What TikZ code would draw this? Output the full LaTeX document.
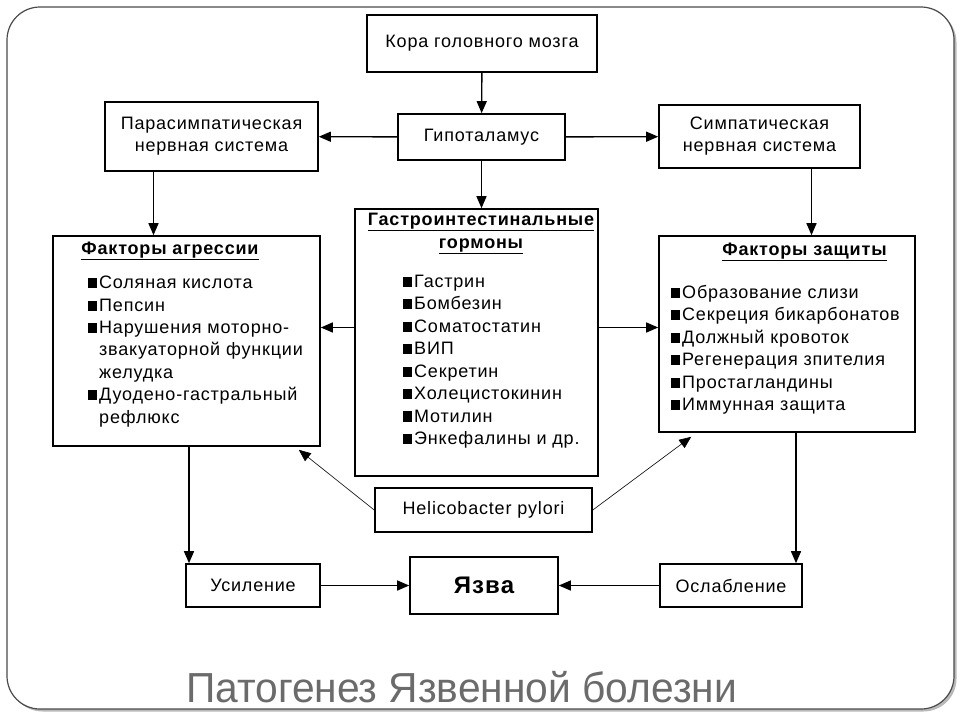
\documentclass[tikz,border=0pt]{standalone}
\usepackage{fontspec}
\setmainfont{Liberation Sans}[LetterSpace=4.5]
\newfontfamily\titelfont[FakeStretch=0.97]{Liberation Sans}
\usetikzlibrary{arrows.meta}
\definecolor{titelgrau}{HTML}{6B6B6B}
\definecolor{rahmengrau}{HTML}{4A4A4A}
\newcommand{\kv}{\makebox[11pt][l]{\rule[0.5pt]{9pt}{10pt}}}
\newcommand{\ei}{\hspace*{11pt}}
\tikzset{
	kasten/.style={draw,line width=1.6pt,inner sep=0pt,font=\fontsize{18}{22}\selectfont,align=center},
	liste/.style={inner sep=0pt,anchor=north west,align=left,font=\fontsize{18}{22.4}\selectfont},
	kopf/.style={inner sep=0pt,align=center,font=\bfseries\fontsize{18}{23}\selectfont},
	pfeil/.style={line width=1.4pt,-{Triangle[length=12pt,width=10pt]}},
	hpfeil/.style={line width=0.6pt,-{Triangle[length=12pt,width=10pt]}}
}
\begin{document}
\begin{tikzpicture}[x=1pt,y=-1pt]
	\useasboundingbox (0,0) rectangle (960,720);
	% Rahmen der Folie
	\fill[gray!55,rounded corners=33pt] (9.5,9.5) rectangle (956.5,711.5);
	\draw[rahmengrau,fill=white,line width=1.2pt,rounded corners=33pt] (7,7) rectangle (954,709);
	% obere Reihe
	\node[kasten,minimum width=230pt,minimum height=57pt] (kora) at (482,43.5) {Кора головного мозга};
	\node[kasten,minimum width=167pt,minimum height=46pt] (gipo) at (481.5,137) {Гипоталамус};
	\node[kasten,minimum width=213pt,minimum height=69pt] (para) at (211.5,136.5) {Парасимпатическая\\нервная система};
	\node[kasten,minimum width=201pt,minimum height=63pt] (simp) at (759.5,136.5) {Симпатическая\\нервная система};
	% mittlere Reihe
	\node[kasten,minimum width=267pt,minimum height=210pt] (agr) at (186.5,341) {};
	\node[kasten,minimum width=243pt,minimum height=267pt] (gastro) at (476.5,342.5) {};
	\node[kasten,minimum width=256pt,minimum height=196pt] (zash) at (787,334) {};
	\node[kopf] (agrkopf) at (170,251) {\underline{Факторы агрессии}};
	\node[kopf] (gastrokopf) at (481,233.5) {\underline{Гастроинтестинальные}\\\underline{гормоны}};
	\node[kopf] (zashkopf) at (804.5,252) {\underline{Факторы защиты}};
	\node[liste] (agrliste) at (88,276) {\kv Соляная кислота\\\kv Пепсин\\\kv Нарушения моторно-\\\ei звакуаторной функции\\\ei желудка\\\kv Дуодено-гастральный\\\ei рефлюкс};
	\node[liste] (gastroliste) at (403,275) {\kv Гастрин\\\kv Бомбезин\\\kv Соматостатин\\\kv ВИП\\\kv Секретин\\\kv Холецистокинин\\\kv Мотилин\\\kv Энкефалины и др.};
	\node[liste] (zashliste) at (671,285) {\kv Образование слизи\\\kv Секреция бикарбонатов\\\kv Должный кровоток\\\kv Регенерация зпителия\\\kv Простагландины\\\kv Иммунная защита};
	% untere Reihe
	\node[kasten,minimum width=217pt,minimum height=44pt] (heli) at (483.5,510) {Helicobacter pylori};
	\node[kasten,minimum width=134pt,minimum height=43pt] (usil) at (253,585.5) {Усиление};
	\node[kasten,minimum width=148pt,minimum height=57pt,font=\bfseries\fontsize{24}{26}\selectfont] (yazva) at (484,585.5) {Язва};
	\node[kasten,minimum width=142pt,minimum height=43pt] (osl) at (731,585.5) {Ослабление};
	% Pfeile
	\draw[pfeil] (kora) -- (gipo);
	\draw[pfeil] (gipo) -- (para);
	\draw[pfeil] (gipo) -- (simp);
	\draw[pfeil] (gipo.south) -- (gipo.south |- gastro.north);
	\draw[pfeil] ([xshift=-58pt]para.south) -- ([xshift=-58pt]para.south |- agr.north);
	\draw[pfeil] ([xshift=52pt]simp.south) -- ([xshift=52pt]simp.south |- zash.north);
	\draw[pfeil] ([yshift=15pt]gastro.west) -- ([yshift=15pt]gastro.west -| agr.east);
	\draw[pfeil] ([yshift=15pt]gastro.east) -- ([yshift=15pt]gastro.east -| zash.west);
	\draw[pfeil] ([xshift=2.5pt]agr.south) -- ([xshift=2.5pt]agr.south |- usil.north);
	\draw[pfeil] ([xshift=9pt]zash.south) -- ([xshift=9pt]zash.south |- osl.north);
	\draw[pfeil] (usil) -- (yazva);
	\draw[pfeil] (osl) -- (yazva);
	\draw[hpfeil] (heli.west) -- ([xshift=-22pt,yshift=-3pt]agr.south east);
	\draw[hpfeil] (heli.east) -- ([xshift=33pt,yshift=-4pt]zash.south west);
	% Titel
	\node[anchor=base west,inner sep=0pt,text=titelgrau,font=\titelfont\fontsize{42}{48}\selectfont] (titel) at (186,702) {Патогенез Язвенной болезни};
\end{tikzpicture}
\end{document}
